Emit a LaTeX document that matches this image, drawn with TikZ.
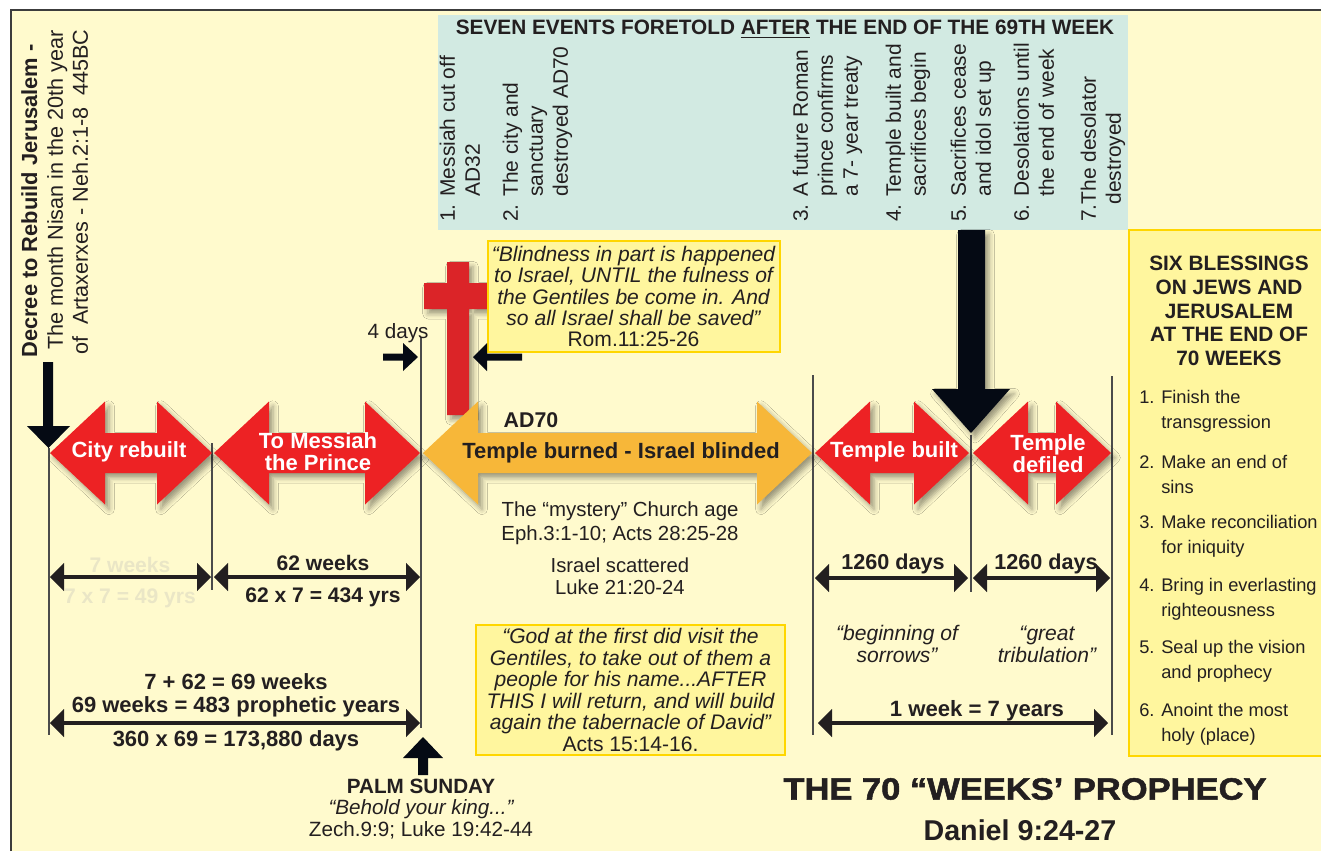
\documentclass[tikz,border=0pt]{standalone}
\usepackage{fontspec}
\setmainfont{Liberation Sans}
\newfontfamily\heavyfont[FakeBold=1.6]{Liberation Sans Bold}
\usetikzlibrary{arrows.meta,shadows.blur}
\definecolor{bgy}{RGB}{255,250,205}
\definecolor{bannerc}{RGB}{210,234,226}
\definecolor{redA}{RGB}{237,34,36}
\definecolor{orangeA}{RGB}{247,183,57}
\definecolor{quoteY}{RGB}{255,246,158}
\definecolor{goldB}{RGB}{255,214,0}
\definecolor{ink}{RGB}{35,31,32}
\definecolor{faded}{RGB}{234,230,198}
\definecolor{vline}{RGB}{75,75,75}
\definecolor{crossR}{RGB}{219,36,40}
\definecolor{blk}{RGB}{5,10,20}
\definecolor{framec}{RGB}{60,60,60}
\newcommand\setfs[2]{\fontsize{#1}{#2}\selectfont}
\newcommand\dblarrow[3]{%
 \fill[#1] (#2,453) -- ({#2+55},401.5) -- ({#2+55},433) -- ({#3-55},433) -- ({#3-55},401.5) -- (#3,453) -- ({#3-55},504.5) -- ({#3-55},473) -- ({#2+55},473) -- ({#2+55},504.5) -- cycle;}
\tikzset{
 ashadow/.style={blur shadow={shadow xshift=3pt, shadow yshift=-3.5pt, shadow blur radius=4pt, shadow opacity=40}},
 lbl/.style={text=ink, inner sep=0pt},
 bcol/.style={lbl, rotate=90, anchor=north west, align=left, font=\setfs{15.7}{18.75}},
 lcol/.style={lbl, rotate=90, anchor=north west},
 arrtxt/.style={text=white, font=\bfseries\setfs{16.5}{16.5}, align=center, inner sep=0pt},
 dimlbl/.style={lbl, font=\bfseries\setfs{15.8}{18}},
 dimlblw/.style={lbl, font=\bfseries\setfs{16.5}{18}},
 midtxt/.style={lbl, align=center, font=\setfs{15.3}{18}},
 qbox/.style={fill=quoteY, draw=goldB, line width=1.5pt, align=center, text=ink, inner sep=0pt, font=\itshape\setfs{15.8}{16.1}},
 dimarrow/.style={draw=ink, line width=3.5pt, {Triangle[length=10.5pt,width=21pt,line width=0.1pt]}-{Triangle[length=10.5pt,width=21pt,line width=0.1pt]}},
 tline/.style={draw=vline, line width=0.9pt},
 bitem/.style={lbl, anchor=west, align=left, font=\setfs{13.7}{18.75}},
}
\begin{document}
\begin{tikzpicture}[x=0.75pt,y=-0.75pt]
\useasboundingbox (0,0) rectangle (1321,851);
\fill[white] (0,0) rectangle (1321,851);
\fill[bgy] (11,10) rectangle (1321,851);
\draw[framec, line width=1.1pt] (11,851) -- (11,10) -- (1321,10);
% banner
\fill[bannerc] (438,15) rectangle (1128,230);
\node[lbl, font=\bfseries\setfs{15.6}{18}] (title7) at (785,29) {SEVEN EVENTS FORETOLD \underline{AFTER} THE END OF THE 69TH WEEK};
\node[bcol] (e1) at (439.4,222) {1. Messiah cut off\\\hphantom{1. }AD32};
\node[bcol] (e2) at (502.4,222) {2. The city and\\\hphantom{2. }sanctuary\\\hphantom{2. }destroyed AD70};
\node[bcol] (e3) at (792.4,222) {3. A future Roman\\\hphantom{3. }prince confirms\\\hphantom{3. }a 7- year treaty};
\node[bcol] (e4) at (885.4,222) {4. Temple built and\\\hphantom{4. }sacrifices begin};
\node[bcol] (e5) at (950.4,222) {5. Sacrifices cease\\\hphantom{5. }and idol set up};
\node[bcol] (e6) at (1013.4,222) {6. Desolations until\\\hphantom{6. }the end of week};
\node[bcol] (e7) at (1080.4,222) {7.The desolator\\\hphantom{7.}destroyed};
% left decree text
\node[lcol, font=\bfseries\setfs{16.4}{19}] (dec1) at (21,358) {Decree to Rebuild Jerusalem -};
\node[lcol, font=\setfs{16.2}{19}] (dec2) at (47,350) {The month Nisan in the 20th year};
\node[lcol, font=\setfs{16.2}{19}] (dec3) at (72,355) {of\ \ Artaxerxes - Neh.2:1-8\ \ 445BC};
% vertical time lines
\coordinate (v0a) at (49,448); \coordinate (v0b) at (49,735);
\coordinate (v1a) at (212,443); \coordinate (v1b) at (212,590);
\coordinate (v2a) at (421,337); \coordinate (v2b) at (421,728);
\coordinate (v3a) at (813,375); \coordinate (v3b) at (813,735);
\coordinate (v4a) at (971,435); \coordinate (v4b) at (971,592);
\coordinate (v5a) at (1112,376); \coordinate (v5b) at (1112,735);
\foreach \v in {0,...,5} {\draw[tline] (v\v a) -- (v\v b);}
% decree arrow
\fill[blk] (43,362) -- (53,362) -- (53,426) -- (70,426) -- (48.5,448) -- (27,426) -- (43,426) -- cycle;
% cross
\fill[crossR, ashadow] (447,262) rectangle (469,415) (424,283) rectangle (495,309);
% timeline arrows
\dblarrow{redA, ashadow}{50}{212}
\dblarrow{redA, ashadow}{214}{420}
\dblarrow{orangeA, ashadow}{423}{812}
\dblarrow{redA, ashadow}{815}{969}
\dblarrow{redA, ashadow}{973}{1111}
\node[arrtxt] (lCity) at (129,452) {City rebuilt};
\node[arrtxt] (lMess) at (318,452) {To Messiah\\the Prince};
\node[arrtxt, text=ink] (lTemple) at (621,453) {Temple burned - Israel blinded};
\node[arrtxt] (lBuilt) at (894,452) {Temple built};
\node[arrtxt] (lDef) at (1048,454) {Temple\\defiled};
\node[lbl, font=\bfseries\setfs{16}{18}] (ad70) at (531,420) {AD70};
% big black arrow
\fill[blk, ashadow] (958,230) -- (985,230) -- (985,389) -- (1010,389) -- (971,433) -- (932,389) -- (958,389) -- cycle;
% quote 1
\node[qbox, minimum width=219pt, minimum height=83.25pt] (q1) at (633.5,296.5) {“Blindness in part is happened\\to Israel, UNTIL the fulness of\\the Gentiles be come in. And\\so all Israel shall be saved”\\{\upshape Rom.11:25-26}};
% 4 days
\node[lbl, font=\setfs{15.5}{18}] (days4) at (398,333) {4 days};
\fill[blk] (383,353.5) -- (403,353.5) -- (403,343) -- (418,357) -- (403,371) -- (403,360.5) -- (383,360.5) -- cycle;
\fill[blk] (522,353.5) -- (487,353.5) -- (487,343) -- (473,357) -- (487,371) -- (487,360.5) -- (522,360.5) -- cycle;
% middle texts
\node[midtxt] (myst) at (620,523) {The “mystery” Church age\\Eph.3:1-10; Acts 28:25-28};
\node[midtxt, font=\setfs{15.2}{16.5}] (scat) at (620,576) {Israel scattered\\Luke 21:20-24};
\node[qbox, minimum width=231.75pt, minimum height=97.5pt] (q2) at (630.5,690) {“God at the first did visit the\\Gentiles, to take out of them a\\people for his name...AFTER\\THIS I will return, and will build\\again the tabernacle of David”\\{\upshape Acts 15:14-16.}};
% dimension arrows left
\coordinate (d1a) at (50,577); \coordinate (d1b) at (211,577);
\coordinate (d2a) at (214,577); \coordinate (d2b) at (420,577);
\coordinate (d3a) at (50,723); \coordinate (d3b) at (420,723);
\draw[dimarrow] (d1a) -- (d1b);
\draw[dimarrow] (d2a) -- (d2b);
\draw[dimarrow] (d3a) -- (d3b);
\node[dimlbl, text=faded] (w7) at (130,565) {7 weeks};
\node[dimlbl, text=faded] (y49) at (130,598) {7 x 7 = 49 yrs};
\node[dimlbl] (w62) at (323,563) {62 weeks};
\node[dimlbl] (y434) at (323,597) {62 x 7 = 434 yrs};
\node[dimlblw] (w69) at (236,682) {7 + 62 = 69 weeks};
\node[dimlblw] (y483) at (236,707) {69 weeks = 483 prophetic years};
\node[dimlblw] (d173) at (236,741) {360 x 69 = 173,880 days};
% dimension arrows right
\coordinate (d4a) at (815,578); \coordinate (d4b) at (968,578);
\coordinate (d5a) at (973,578); \coordinate (d5b) at (1110,578);
\coordinate (d6a) at (818,723); \coordinate (d6b) at (1108,723);
\draw[dimarrow] (d4a) -- (d4b);
\draw[dimarrow] (d5a) -- (d5b);
\draw[dimarrow] (d6a) -- (d6b);
\node[dimlbl, font=\bfseries\setfs{16.2}{18}] (dd1) at (893,564) {1260 days};
\node[dimlbl, font=\bfseries\setfs{16.2}{18}] (dd2) at (1046,564) {1260 days};
\node[lbl, align=center, font=\itshape\setfs{15.8}{16.5}] (sorrow) at (897,644) {“beginning of\\sorrows”};
\node[lbl, align=center, font=\itshape\setfs{15.8}{16.5}] (trib) at (1047,644) {“great\\tribulation”};
\node[lbl, font=\bfseries\setfs{16.6}{18}] (wk1) at (977,711) {1 week = 7 years};
% palm sunday
\fill[blk] (418,775) -- (428,775) -- (428,758) -- (443,758) -- (423,737) -- (403,758) -- (418,758) -- cycle;
\node[lbl, align=center, font=\setfs{15.5}{16}] (palm) at (421,809) {{\bfseries PALM SUNDAY}\\{\itshape “Behold your king...”}\\Zech.9:9; Luke 19:42-44};
% blessings box
\fill[quoteY] (1129,230) rectangle (1330,756);
\draw[goldB, line width=2pt] (1129,230) rectangle (1330,756);
\node[lbl, align=center, font=\bfseries\setfs{15.6}{17.8}] (bt) at (1229,311) {SIX BLESSINGS\\ON JEWS AND\\JERUSALEM\\AT THE END OF\\70 WEEKS};
\node[bitem] (b1) at (1139,411.5) {1. Finish the\\\hphantom{1. }transgression};
\node[bitem] (b2) at (1139,474.5) {2. Make an end of\\\hphantom{2. }sins};
\node[bitem] (b3) at (1139,536.5) {3. Make reconciliation\\\hphantom{3. }for iniquity};
\node[bitem] (b4) at (1139,599.5) {4. Bring in everlasting\\\hphantom{4. }righteousness};
\node[bitem] (b5) at (1139,661.5) {5. Seal up the vision\\\hphantom{5. }and prophecy};
\node[bitem] (b6) at (1139,724.5) {6. Anoint the most\\\hphantom{6. }holy (place)};
% title
\node[lbl] (title70) at (1025,789) {\scalebox{1.125}[1]{\heavyfont\setfs{23}{26}THE 70 “WEEKS’ PROPHECY}};
\node[lbl, font=\bfseries\setfs{21.5}{24}] (dan) at (1020,830) {Daniel 9:24-27};
\end{tikzpicture}
\end{document}
